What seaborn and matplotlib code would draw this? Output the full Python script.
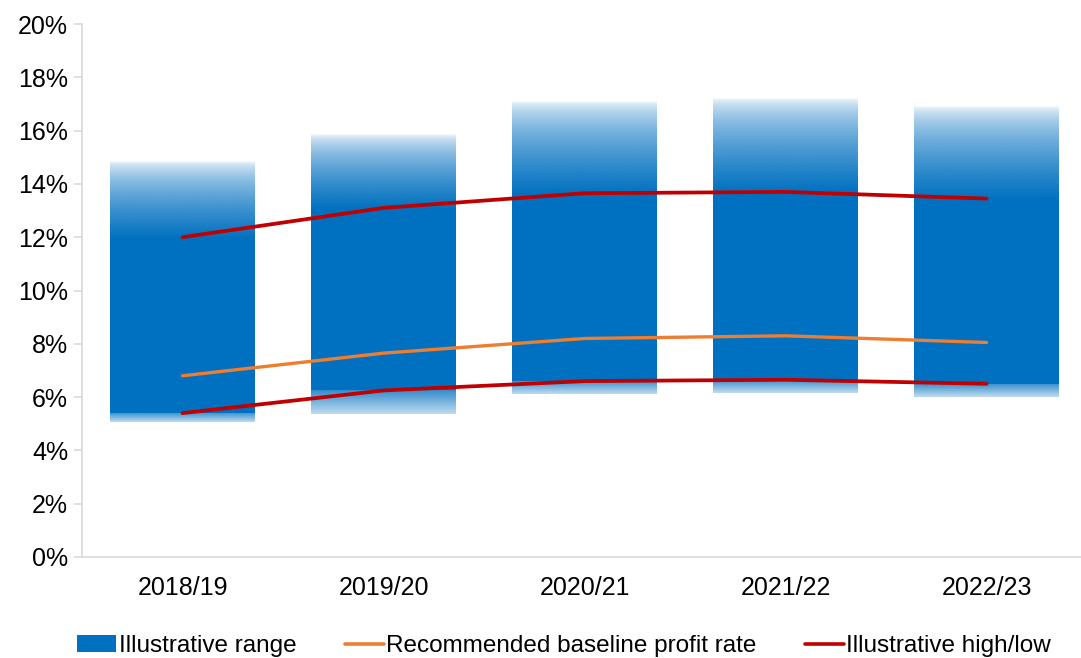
import numpy as np
import pandas as pd
import matplotlib
matplotlib.use("Agg")
import matplotlib.pyplot as plt
import seaborn as sns
from matplotlib.colors import to_rgb
from matplotlib.patches import Patch
from matplotlib.lines import Line2D

# datos (en %)
years = ["2018/19", "2019/20", "2020/21", "2021/22", "2022/23"]
range_top = [14.85, 15.85, 17.1, 17.2, 16.9]      # donde se desvanece arriba
range_bottom = [5.05, 5.35, 6.1, 6.15, 6.0]       # donde se desvanece abajo
high = [12.0, 13.1, 13.65, 13.7, 13.45]           # linea alta
low = [5.4, 6.25, 6.6, 6.65, 6.5]                 # linea baja
baseline = [6.8, 7.65, 8.2, 8.3, 8.05]            # tasa recomendada

blue = "#0070C0"
orange = "#ED7D31"
red = "#C00000"
grey = "#D9D9D9"

df = pd.DataFrame({"year": years, "low": low, "span": np.array(high) - np.array(low)})

sns.set_theme(style="white")
plt.rcParams["font.family"] = ["Liberation Sans", "DejaVu Sans"]

fig = plt.figure(figsize=(10.81, 6.58), dpi=100)
ax = fig.add_axes([0.0759, 0.1535, 0.9297, 0.81])

bar_w = 0.72
# parte solida
sns.barplot(data=df, x="year", y="span", bottom=df["low"], color=blue,
            width=bar_w, saturation=1, linewidth=0, ax=ax, zorder=1)

# degradados arriba y abajo (fila 0 = arriba en imshow)
rgb = to_rgb(blue)
n = 256
t = np.linspace(0, 1, n)
top_grad = np.zeros((n, 2, 4))
top_grad[..., :3] = rgb
top_grad[..., 3] = (t ** 0.55)[:, None]       # blanco arriba, azul abajo
bot_grad = np.zeros((n, 2, 4))
bot_grad[..., :3] = rgb
bot_grad[..., 3] = np.linspace(0.8, 0.25, n)[:, None]

for i in range(len(years)):
    x0, x1 = i - bar_w / 2, i + bar_w / 2
    ax.imshow(top_grad, extent=[x0, x1, high[i] - 0.05, range_top[i]], aspect="auto",
              interpolation="bilinear", zorder=0.9)
    ax.imshow(bot_grad, extent=[x0, x1, range_bottom[i], low[i]], aspect="auto",
              interpolation="bilinear", zorder=0.9)

# lineas
sns.lineplot(x=years, y=baseline, color=orange, linewidth=2.4, sort=False, ax=ax, zorder=3)
sns.lineplot(x=years, y=high, color=red, linewidth=2.7, sort=False, ax=ax, zorder=3)
sns.lineplot(x=years, y=low, color=red, linewidth=2.7, sort=False, ax=ax, zorder=3)

ax.set_xlim(-0.5, 4.5)
ax.set_ylim(0, 20)
ax.set_yticks(range(0, 21, 2))
ax.set_yticklabels([f"{v}%" for v in range(0, 21, 2)])
ax.set_xlabel("")
ax.set_ylabel("")

for s in ["top", "right"]:
    ax.spines[s].set_visible(False)
for s in ["left", "bottom"]:
    ax.spines[s].set_color(grey)
    ax.spines[s].set_linewidth(1.2)
ax.tick_params(axis="y", left=True, length=6, width=1.2, labelsize=18, pad=4,
               color=grey, labelcolor="black")
ax.tick_params(axis="x", bottom=False, labelsize=18, pad=8, labelcolor="black")

handles = [Patch(facecolor=blue, edgecolor="none"),
           Line2D([], [], color=orange, linewidth=2.6),
           Line2D([], [], color=red, linewidth=2.6)]
labels = ["Illustrative range", "Recommended baseline profit rate", "Illustrative high/low"]
fig.legend(handles, labels, loc="center", bbox_to_anchor=(0.522, 0.018), ncol=3,
           frameon=False, fontsize=17.5, handlelength=1.6, handletextpad=0.1,
           columnspacing=2.0, labelcolor="black")

fig.savefig("out.png", dpi=100)
